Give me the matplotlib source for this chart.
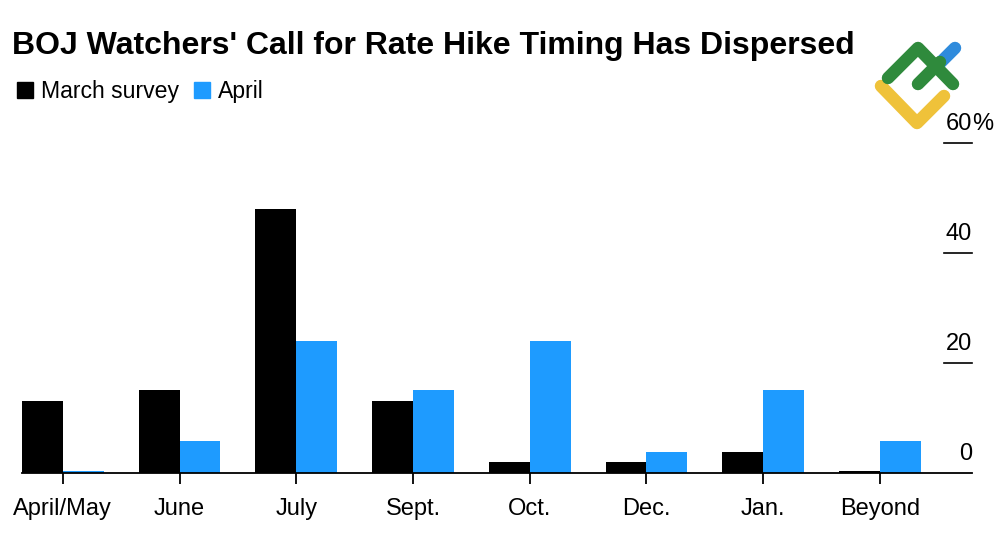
import matplotlib.pyplot as plt
import numpy as np
from matplotlib.lines import Line2D
from matplotlib.transforms import blended_transform_factory

plt.rcParams['font.family'] = ['Liberation Sans', 'DejaVu Sans']

# survey share of respondents (%) by expected timing of next BOJ hike
categories = ['April/May', 'June', 'July', 'Sept.', 'Oct.', 'Dec.', 'Jan.', 'Beyond']
march = [13, 15, 48, 13, 1.9, 1.9, 3.8, 0.3]
april = [0.3, 5.8, 24, 15, 24, 3.8, 15, 5.8]
yticks = [0, 20, 40, 60]
ylabels = ['0', '20', '40', '60']

c_march = '#000000'
c_april = '#1e9bff'

fig = plt.figure(figsize=(10, 5.45), dpi=100)
ax = fig.add_axes([0.022, 1 - 472.7 / 545, 0.95, 329.7 / 545])

x = np.arange(len(categories))
w = 0.35
ax.bar(x - w / 2, march, w, color=c_march, zorder=2)
ax.bar(x + w / 2, april, w, color=c_april, zorder=2)

ax.set_xlim(-0.35, 7.79)
ax.set_ylim(0, 60)
for s in ['top', 'right', 'left']:
    ax.spines[s].set_visible(False)
ax.spines['bottom'].set_linewidth(1.3)
ax.spines['bottom'].set_zorder(3)
ax.set_yticks([])
ax.set_xticks(x)
ax.set_xticklabels(categories, fontsize=17)
ax.tick_params(axis='x', length=8, width=1.3, pad=10)

# right-side short tick lines with labels above them
tr = blended_transform_factory(ax.transAxes, ax.transData)
for v, lab in zip(yticks, ylabels):
    if v > 0:
        ax.plot([0.9705, 1.0], [v, v], color='black', lw=1.2, transform=tr, clip_on=False)
    ax.text(1.0, v + 2.4, lab, transform=tr, ha='right', va='baseline', fontsize=17)
    if v == yticks[-1]:
        ax.text(1.0, v + 2.4, '%', transform=tr, ha='left', va='baseline', fontsize=17)

fig.text(0.012, 1 - 54 / 545, "BOJ Watchers' Call for Rate Hike Timing Has Dispersed",
         fontsize=23, fontweight='bold', ha='left', va='baseline')

# legend
handles = [Line2D([], [], marker='s', ls='', color=c_march, markersize=12),
           Line2D([], [], marker='s', ls='', color=c_april, markersize=12)]
fig.legend(handles, ['March survey', 'April'], loc='upper left', bbox_to_anchor=(0.004, 1 - 71 / 545),
           ncol=2, frameon=False, fontsize=16.6, handletextpad=0.2, columnspacing=0.5,
           handlelength=1.0, borderaxespad=0)

# watermark logo (figure pixel coords)
def px(pts):
    return [p[0] / 1000 for p in pts], [1 - p[1] / 545 for p in pts]

for pts, col in [
    ([(881, 86), (917, 123), (944, 96)], '#efc23a'),
    ([(937, 66), (955, 48)], '#2f8bdc'),
    ([(888, 78), (918, 48), (953, 84)], '#2f8a3c'),
    ([(918, 84), (940, 62)], '#2f8a3c'),
]:
    xs, ys = px(pts)
    fig.add_artist(Line2D(xs, ys, color=col, lw=9, solid_capstyle='round',
                          solid_joinstyle='round', transform=fig.transFigure))

fig.savefig('out.png', dpi=100)
